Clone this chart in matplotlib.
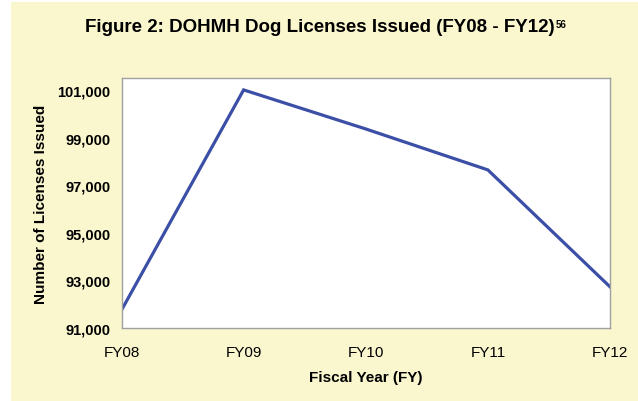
import matplotlib.pyplot as plt
from matplotlib.ticker import FuncFormatter
from matplotlib.patches import Rectangle

years = ["FY08", "FY09", "FY10", "FY11", "FY12"]
licenses = [91750, 101000, 99360, 97640, 92730]
y_ticks = [91000, 93000, 95000, 97000, 99000, 101000]

bg = "#FAF7CE"
line_col = "#3C4FA6"

plt.rcParams['font.family'] = ['Liberation Sans', 'DejaVu Sans']

fig = plt.figure(figsize=(6.38, 4.02), dpi=100)
fig.patch.set_facecolor("white")
# yellow panel behind the chart (leaves a thin white margin top/left)
fig.patches.append(Rectangle((11 / 638, 0), 1 - 11 / 638, 1 - 3 / 402,
                             transform=fig.transFigure, facecolor=bg,
                             edgecolor="none", zorder=-10))

ax = fig.add_axes([121.5 / 638, (402 - 329) / 402, (610 - 121.5) / 638, (329 - 79) / 402])
ax.set_facecolor("white")

x = list(range(len(years)))
ax.plot(x, licenses, color=line_col, linewidth=2.3, solid_joinstyle='miter')

ax.set_xlim(0, len(years) - 1)
ax.set_ylim(91000, 101500)
ax.set_xticks(x)
ax.set_xticklabels(years, fontsize=11)
ax.set_yticks(y_ticks)
ax.yaxis.set_major_formatter(FuncFormatter(lambda v, p: f"{int(v):,}"))
for lbl in ax.get_yticklabels():
    lbl.set_fontweight('bold')
    lbl.set_fontsize(10.5)
ax.tick_params(length=0)
ax.tick_params(axis='y', pad=8)
ax.tick_params(axis='x', pad=12)

for s in ax.spines.values():
    s.set_color("#A0A0A0")
    s.set_linewidth(1.0)

ax.set_xlabel("Fiscal Year (FY)", fontsize=11, fontweight='bold', labelpad=8)
ax.set_ylabel("Number of Licenses Issued", fontsize=11, fontweight='bold', labelpad=7)

title = fig.text(319.5 / 638, 1 - 32 / 402, "Figure 2: DOHMH Dog Licenses Issued (FY08 - FY12)",
                 ha='center', va='baseline', fontsize=13.5, fontweight='bold')
fig.canvas.draw()
ax.annotate("56", xy=(1, 1), xycoords=title, xytext=(1, -1), textcoords='offset points',
            ha='left', va='top', fontsize=7, fontweight='bold')

fig.savefig("out.png", dpi=100, facecolor=fig.get_facecolor())
